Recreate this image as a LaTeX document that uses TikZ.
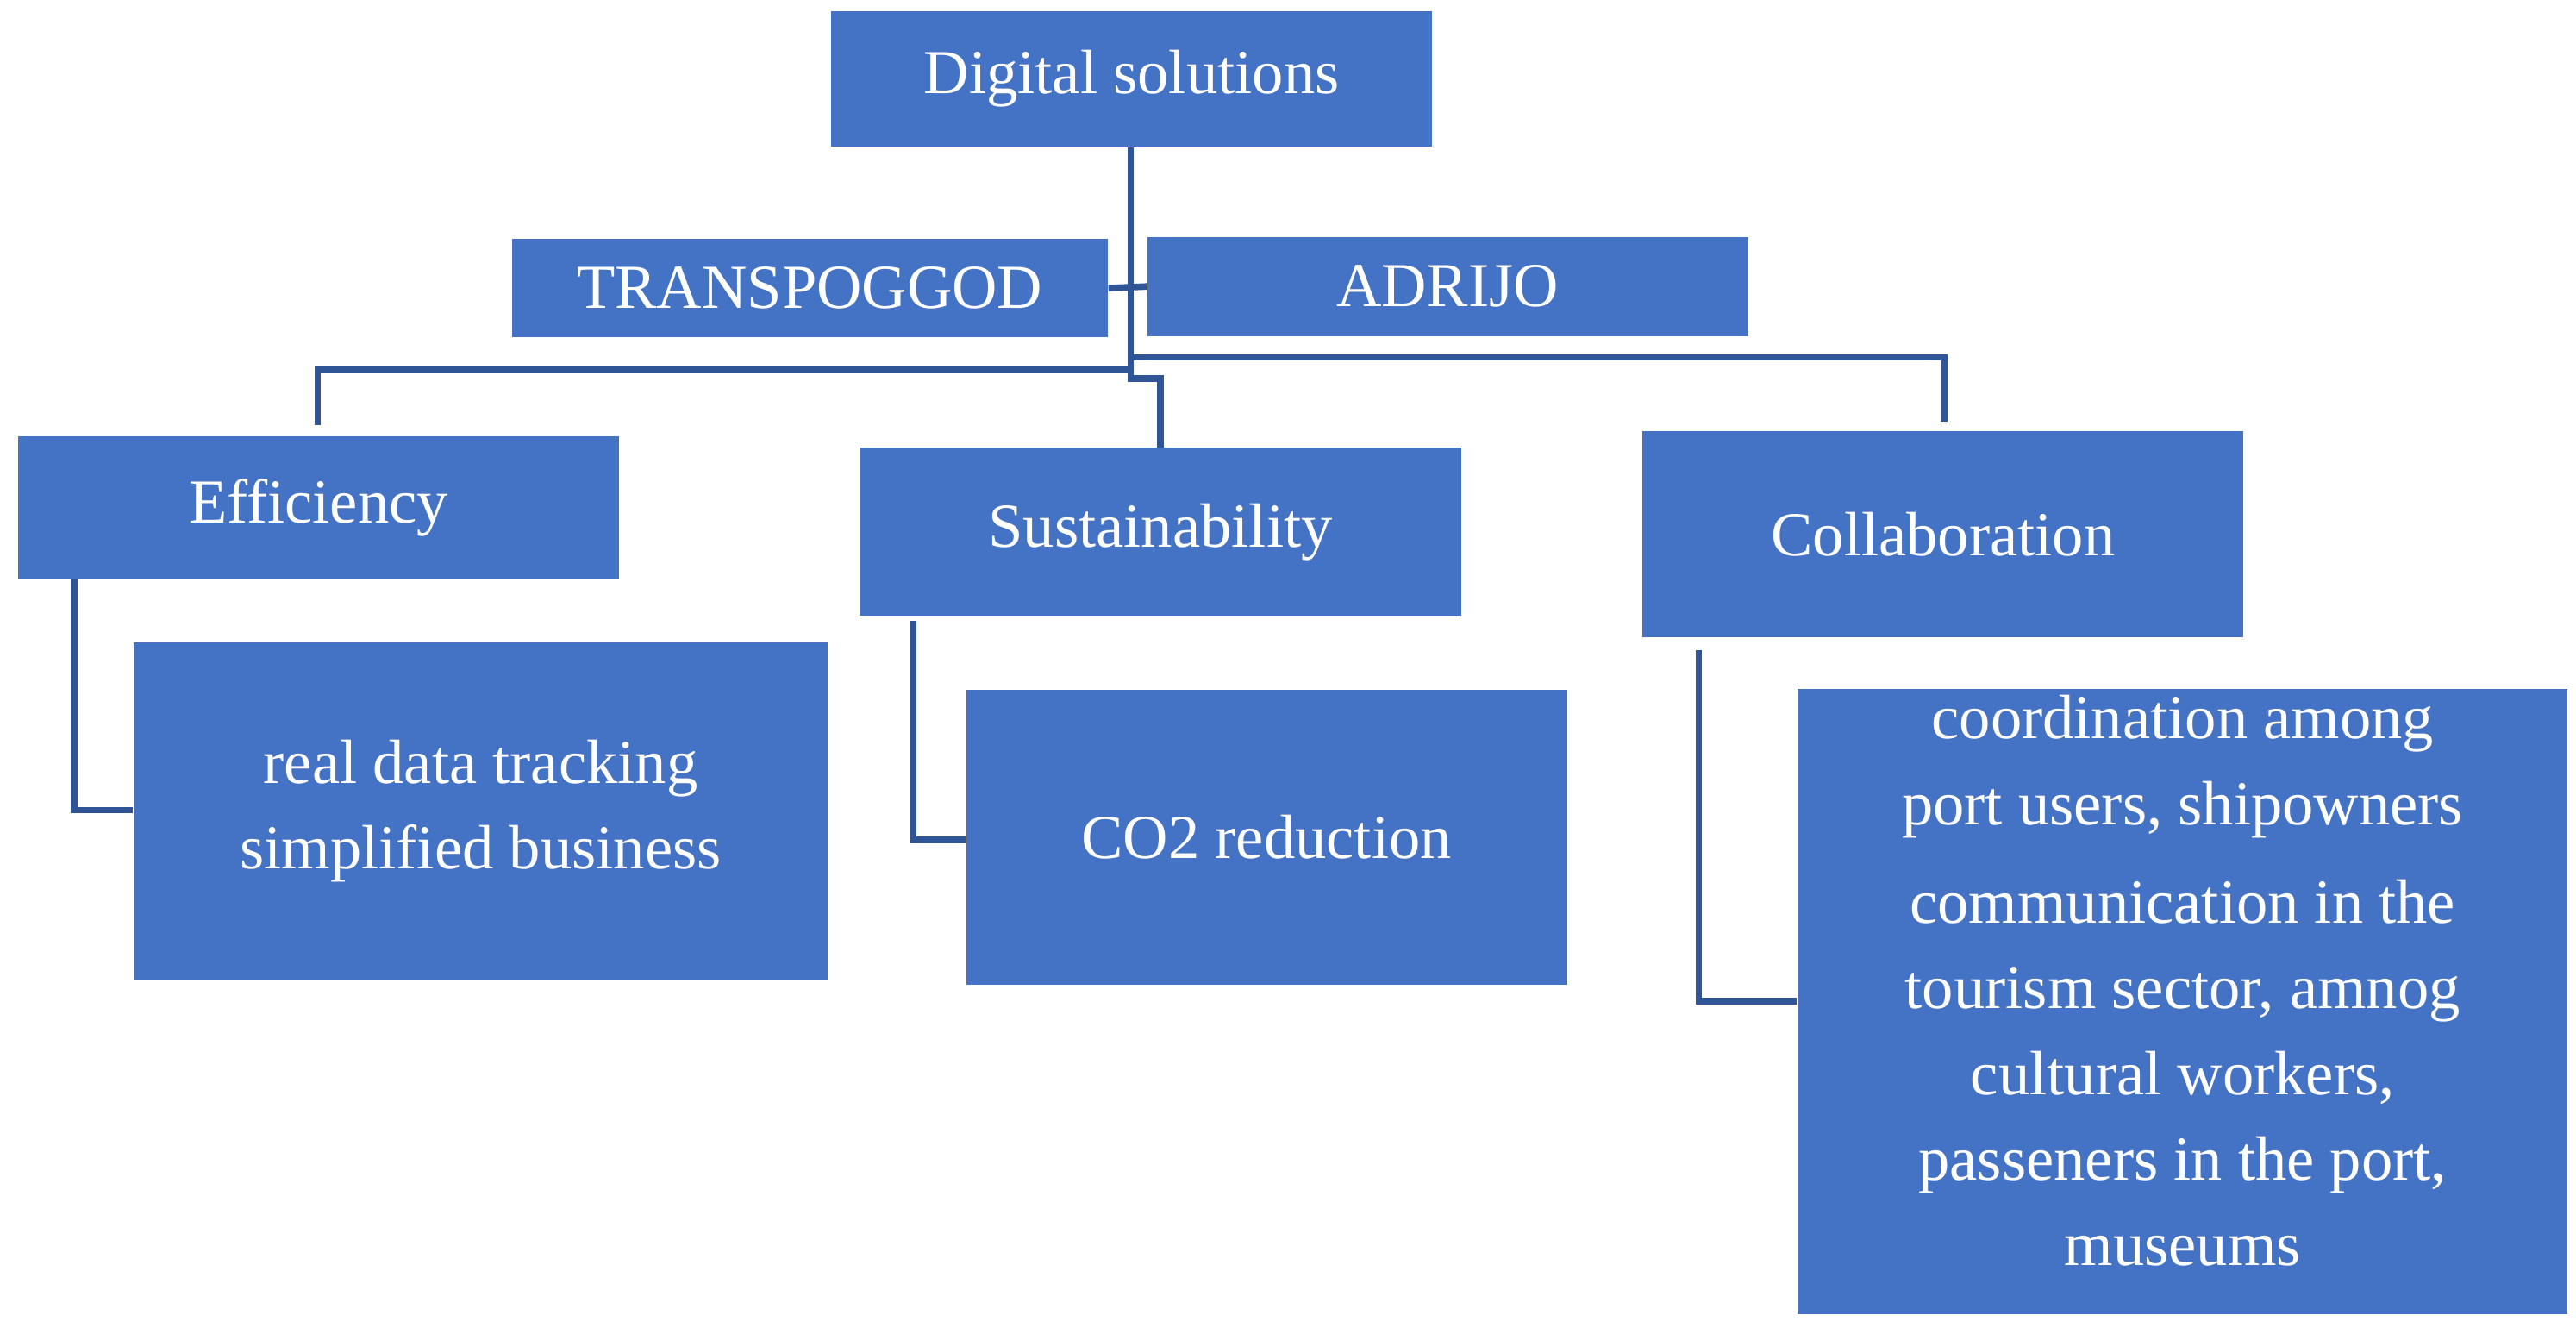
\documentclass[tikz,border=0pt]{standalone}
\usepackage{fontspec}
\setmainfont{Liberation Serif}
\definecolor{boxc}{HTML}{4472C4}
\definecolor{linec}{HTML}{2F5597}
\tikzset{box/.style={fill=boxc,draw=none,text=white,font=\fontsize{19}{26}\selectfont,align=center,inner sep=0pt},
 conn/.style={draw=linec,line width=2pt}}
\newcommand{\bx}[6]{% name x1 y1 x2 y2 text
 \node[box,minimum width={(#4-#2)*0.5pt},minimum height={(#5-#3)*0.5pt}] (#1) at ({(#2+#4)/2},{(#3+#5)/2}) {#6};}
\begin{document}
\begin{tikzpicture}[x=0.5pt,y=-0.5pt]
\useasboundingbox (0,0) rectangle (1565,810);
\bx{ds}{505}{7}{870}{89}{Digital solutions}
\bx{tr}{311}{145}{673}{205}{TRANSPOGGOD}
\bx{ad}{697}{144}{1062}{204}{ADRIJO}
\bx{ef}{11}{265}{376}{352}{Efficiency}
\bx{su}{522}{272}{888}{374}{Sustainability}
\bx{co}{998}{262}{1363}{387}{Collaboration}
\bx{rd}{81}{390}{503}{595}{real data tracking\\simplified business}
\bx{c2}{587}{419}{952}{598}{CO2 reduction}
\node[box,minimum width={468*0.5pt},minimum height={380*0.5pt},anchor=north,text depth=0pt] (cd) at (1326,418) {};
\node[box,anchor=north,fill=none] (cdt) at (1326,422) {coordination among\\port users, shipowners\\[4pt]communication in the\\tourism sector, amnog\\cultural workers,\\passeners in the port,\\museums};
\coordinate (j) at (687,217);
\draw[conn] (ds.south -| j) -- (687,230) -- (705,230) -- (su.north -| 705,0);
\draw[conn] (687,224) -- (193,224) -- (193,258);
\draw[conn] (687,217) -- (1181,217) -- (1181,256);
\draw[conn] (tr.east) -- (ad.west);
\draw[conn] (45,352) -- (45,492) -- (rd.west |- 0,492);
\draw[conn] (555,377) -- (555,510) -- (c2.west |- 0,510);
\draw[conn] (1032,395) -- (1032,608) -- (cd.west |- 0,608);
\end{tikzpicture}
\end{document}
